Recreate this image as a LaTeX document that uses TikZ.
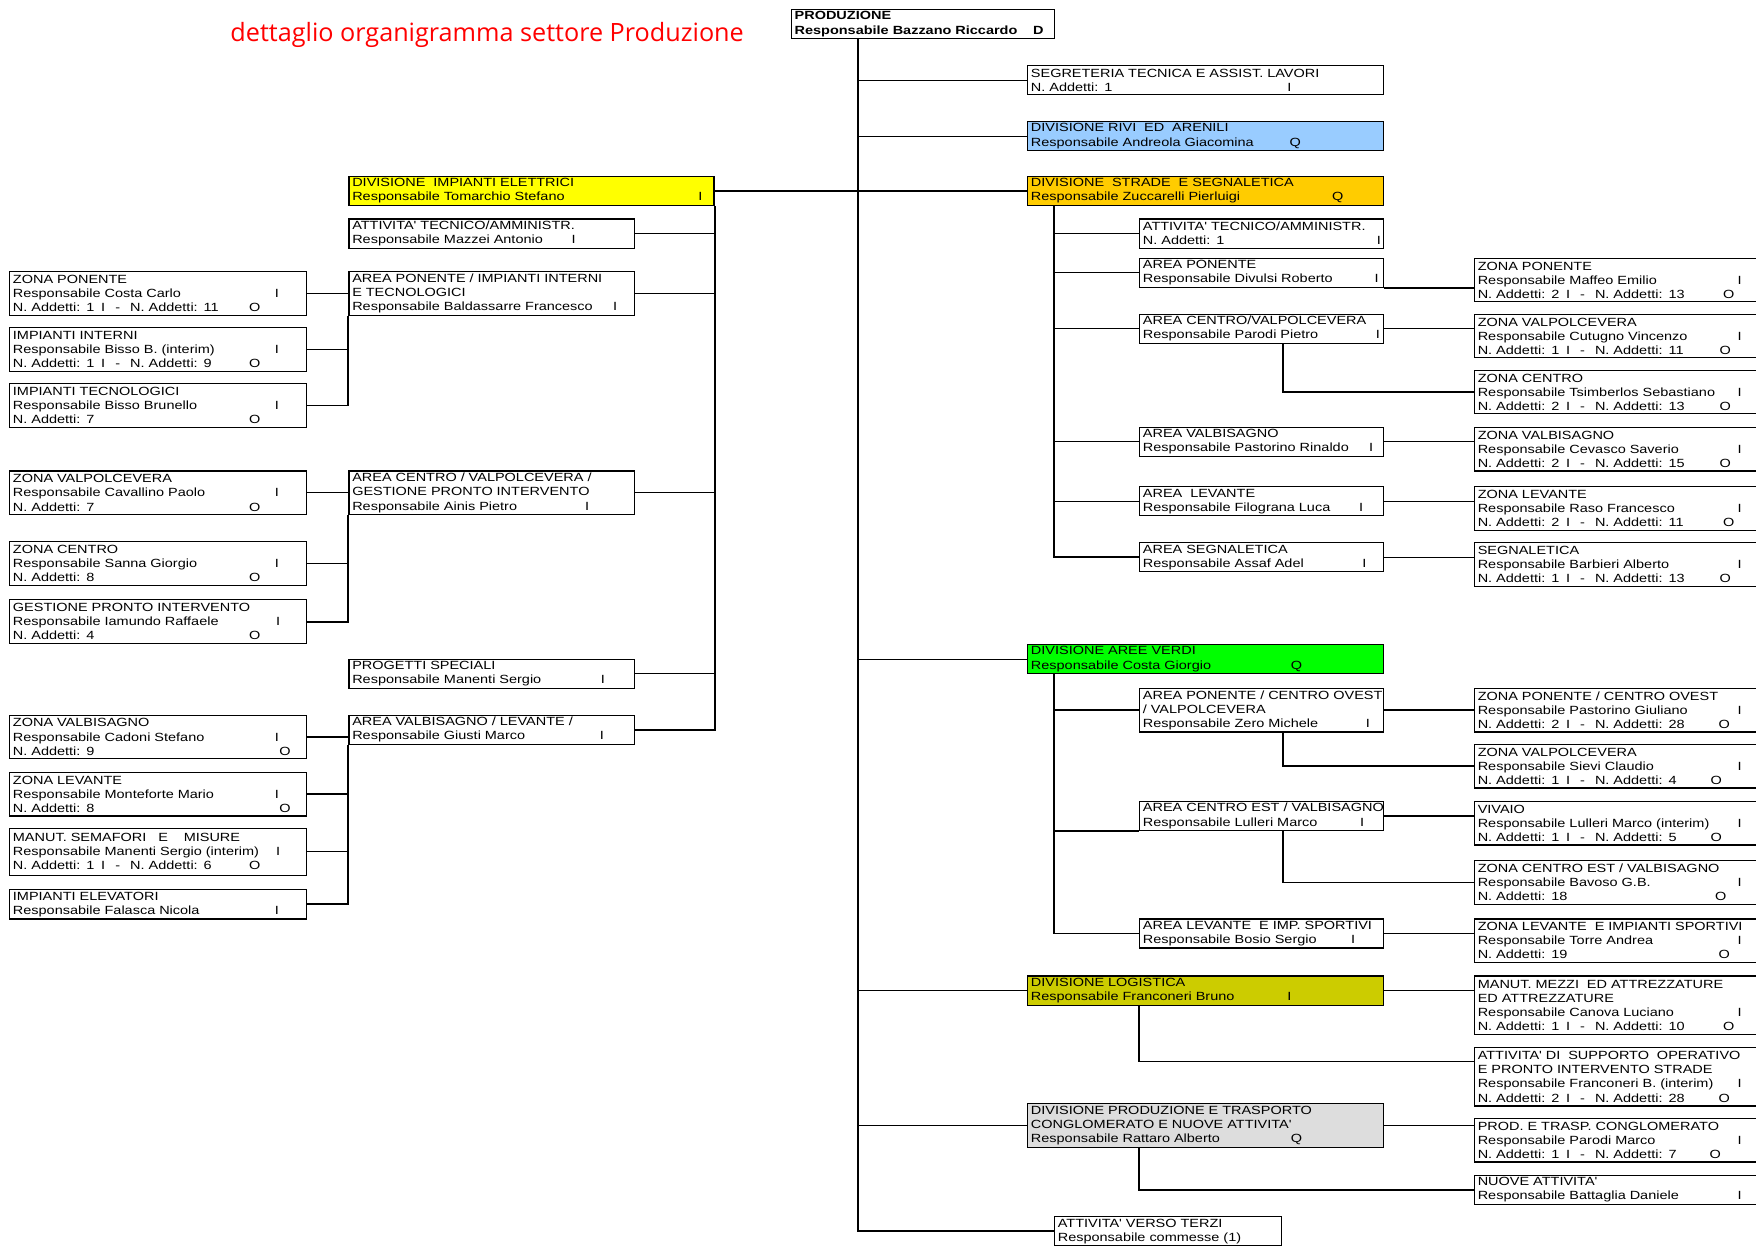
\documentclass[tikz,border=0pt]{standalone}
\usepackage{fontspec}
\newfontfamily\boxfamily[FakeStretch=1.22,Ligatures=TeXOff]{Liberation Sans}
\newfontfamily\titlefamily{Open Sans}
\newcommand{\boxtext}{\boxfamily\fontsize{10.6}{12.6}\selectfont}
% text padded to a fixed width, then the marker letter
\newcommand{\rsp}[3]{\makebox[#1pt][l]{#2}#3}
\newcommand{\nad}[2]{N. Addetti: #1\hspace{6pt}I\hspace{9pt}-\hspace{9pt}N. Addetti: #2}
\definecolor{fillrivi}{HTML}{99CCFF}
\definecolor{fillstrade}{HTML}{FFCC00}
\definecolor{fillimpel}{HTML}{FFFF00}
\definecolor{fillverdi}{HTML}{00FF00}
\definecolor{filllogist}{HTML}{CCCC00}
\definecolor{fillconglo}{HTML}{DDDDDD}
\tikzset{
    unit/.style={draw, line width=1.1pt, anchor=north west, align=left,
        inner xsep=3pt, inner ysep=0pt, font=\boxtext},
    zonebox/.style={unit, text width=259pt},
    areabox/.style={unit, text width=249pt},
    divbox/.style={unit, text width=312pt},
    subbox/.style={unit, text width=212pt},
    farbox/.style={unit, text width=254pt},
    ltwo/.style={minimum height=26pt},
    lthree/.style={minimum height=39pt},
    lfour/.style={minimum height=52pt},
    link/.style={line width=1.1pt},
    bus/.style={line width=1.7pt}
}
\usetikzlibrary{calc}

\begin{document}
\begin{tikzpicture}[x=1pt, y=-1pt]
    \useasboundingbox (0,0) rectangle (1568,1112);
    \node[text=red, font=\titlefamily\fontsize{22.5}{26}\selectfont] (ttl) at (435,31) {dettaglio organigramma settore Produzione};
    \node[unit, ltwo, text width=229pt] (prod) at (706,8) {\textbf{PRODUZIONE}\\\textbf{\rsp{213}{Responsabile Bazzano Riccardo}{D}}};
    % divisions on the trunk
    \node[divbox, ltwo] (segr) at (917,58) {SEGRETERIA TECNICA E ASSIST. LAVORI\\\rsp{229}{N. Addetti: 1}{I}};
    \node[divbox, ltwo, fill=fillrivi] (rivi) at (917,108) {DIVISIONE RIVI\ \ ED\ \ ARENILI\\\rsp{231}{Responsabile Andreola Giacomina}{Q}};
    \node[divbox, ltwo, fill=fillstrade] (strade) at (917,157) {DIVISIONE\ \ STRADE\ \ E SEGNALETICA\\\rsp{269}{Responsabile Zuccarelli Pierluigi}{Q}};
    \node[divbox, ltwo, fill=fillverdi] (verdi) at (917,575) {DIVISIONE AREE VERDI\\\rsp{232}{Responsabile Costa Giorgio}{Q}};
    \node[divbox, ltwo, fill=filllogist] (logist) at (917,871) {DIVISIONE LOGISTICA\\\rsp{229}{Responsabile Franconeri Bruno}{I}};
    \node[divbox, lthree, fill=fillconglo] (conglo) at (917,985) {DIVISIONE PRODUZIONE E TRASPORTO\\CONGLOMERATO E NUOVE ATTIVITA'\\\rsp{232}{Responsabile Rattaro Alberto}{Q}};
    \node[unit, ltwo, text width=197pt] (terzi) at (941,1086) {ATTIVITA' VERSO TERZI\\Responsabile commesse (1)};
    % impianti elettrici
    \node[unit, ltwo, text width=320pt, fill=fillimpel] (impel) at (311,157) {DIVISIONE\ \ IMPIANTI ELETTRICI\\\rsp{309}{Responsabile Tomarchio Stefano}{I}};
    \node[areabox, ltwo] (eattiv) at (311,195) {ATTIVITA' TECNICO/AMMINISTR.\\\rsp{196}{Responsabile Mazzei Antonio}{I}};
    \node[areabox, lthree] (eponente) at (311,242) {AREA PONENTE / IMPIANTI INTERNI\\E TECNOLOGICI\\\rsp{233}{Responsabile Baldassarre Francesco}{I}};
    \node[areabox, lthree] (ecentro) at (311,420) {AREA CENTRO / VALPOLCEVERA /\\GESTIONE PRONTO INTERVENTO\\\rsp{208}{Responsabile Ainis Pietro}{I}};
    \node[areabox, ltwo] (eprog) at (311,588) {PROGETTI SPECIALI\\\rsp{222}{Responsabile Manenti Sergio}{I}};
    \node[areabox, ltwo] (evalb) at (311,638) {AREA VALBISAGNO / LEVANTE /\\\rsp{221}{Responsabile Giusti Marco}{I}};
    \node[zonebox, lthree] (lzponente) at (8,242) {ZONA PONENTE\\\rsp{234}{Responsabile Costa Carlo}{I}\\\rsp{211}{\nad{1}{11}}{O}};
    \node[zonebox, lthree] (lzinterni) at (8,292) {IMPIANTI INTERNI\\\rsp{234}{Responsabile Bisso B. (interim)}{I}\\\rsp{211}{\nad{1}{9}}{O}};
    \node[zonebox, lthree] (lztecno) at (8,342) {IMPIANTI TECNOLOGICI\\\rsp{234}{Responsabile Bisso Brunello}{I}\\\rsp{211}{N. Addetti: 7}{O}};
    \node[zonebox, lthree] (lzvalp) at (8,420) {ZONA VALPOLCEVERA\\\rsp{234}{Responsabile Cavallino Paolo}{I}\\\rsp{211}{N. Addetti: 7}{O}};
    \node[zonebox, lthree] (lzcentro) at (8,483) {ZONA CENTRO\\\rsp{234}{Responsabile Sanna Giorgio}{I}\\\rsp{211}{N. Addetti: 8}{O}};
    \node[zonebox, lthree] (lzgest) at (8,535) {GESTIONE PRONTO INTERVENTO\\\rsp{235}{Responsabile Iamundo Raffaele}{I}\\\rsp{211}{N. Addetti: 4}{O}};
    \node[zonebox, lthree] (lzvalb) at (8,638) {ZONA VALBISAGNO\\\rsp{234}{Responsabile Cadoni Stefano}{I}\\\rsp{238}{N. Addetti: 9}{O}};
    \node[zonebox, lthree] (lzlev) at (8,689) {ZONA LEVANTE\\\rsp{234}{Responsabile Monteforte Mario}{I}\\\rsp{238}{N. Addetti: 8}{O}};
    \node[zonebox, minimum height=42pt] (lzsemaf) at (8,739) {MANUT. SEMAFORI\ \ \ E\ \ \ \ MISURE\\\rsp{235}{Responsabile Manenti Sergio (interim)}{I}\\\rsp{211}{\nad{1}{6}}{O}};
    \node[zonebox, ltwo] (lzelev) at (8,794) {IMPIANTI ELEVATORI\\\rsp{234}{Responsabile Falasca Nicola}{I}};
    % strade e segnaletica
    \node[subbox, ltwo] (sattiv) at (1017,195) {ATTIVITA' TECNICO/AMMINISTR.\\\rsp{209}{N. Addetti: 1}{I}};
    \node[subbox, ltwo] (sponente) at (1017,230) {AREA PONENTE\\\rsp{207}{Responsabile Divulsi Roberto}{I}};
    \node[subbox, ltwo] (scentro) at (1017,280) {AREA CENTRO/VALPOLCEVERA\\\rsp{208}{Responsabile Parodi Pietro}{I}};
    \node[subbox, ltwo] (svalb) at (1017,381) {AREA VALBISAGNO\\\rsp{202}{Responsabile Pastorino Rinaldo}{I}};
    \node[subbox, ltwo] (slev) at (1017,434) {AREA\ \ LEVANTE\\\rsp{193}{Responsabile Filograna Luca}{I}};
    \node[subbox, ltwo] (ssegn) at (1017,484) {AREA SEGNALETICA\\\rsp{196}{Responsabile Assaf Adel}{I}};
    \node[farbox, lthree] (rzponente) at (1316,230) {ZONA PONENTE\\\rsp{232}{Responsabile Maffeo Emilio}{I}\\\rsp{219}{\nad{2}{13}}{O}};
    \node[farbox, lthree] (rzvalp) at (1316,280) {ZONA VALPOLCEVERA\\\rsp{232}{Responsabile Cutugno Vincenzo}{I}\\\rsp{216}{\nad{1}{11}}{O}};
    \node[farbox, lthree] (rzcentro) at (1316,330) {ZONA CENTRO\\\rsp{232}{Responsabile Tsimberlos Sebastiano}{I}\\\rsp{216}{\nad{2}{13}}{O}};
    \node[farbox, lthree] (rzvalb) at (1316,381) {ZONA VALBISAGNO\\\rsp{232}{Responsabile Cevasco Saverio}{I}\\\rsp{216}{\nad{2}{15}}{O}};
    \node[farbox, lthree] (rzlev) at (1316,434) {ZONA LEVANTE\\\rsp{232}{Responsabile Raso Francesco}{I}\\\rsp{219}{\nad{2}{11}}{O}};
    \node[farbox, lthree] (rzsegn) at (1316,484) {SEGNALETICA\\\rsp{232}{Responsabile Barbieri Alberto}{I}\\\rsp{216}{\nad{1}{13}}{O}};
    % aree verdi
    \node[subbox, lthree] (vponente) at (1017,614) {\mbox{AREA PONENTE / CENTRO OVEST}\\ / VALPOLCEVERA\\\rsp{199}{Responsabile Zero Michele}{I}};
    \node[subbox, ltwo] (vcentro) at (1017,715) {\mbox{AREA CENTRO EST / VALBISAGNO}\\\rsp{194}{Responsabile Lulleri Marco}{I}};
    \node[subbox, ltwo] (vlev) at (1017,820) {\mbox{AREA LEVANTE\ \ E IMP. SPORTIVI}\\\rsp{186}{Responsabile Bosio Sergio}{I}};
    \node[farbox, lthree] (rvponente) at (1316,614) {ZONA PONENTE / CENTRO OVEST\\\rsp{232}{Responsabile Pastorino Giuliano}{I}\\\rsp{215}{\nad{2}{28}}{O}};
    \node[farbox, lthree] (rvvalp) at (1316,664) {ZONA VALPOLCEVERA\\\rsp{232}{Responsabile Sievi Claudio}{I}\\\rsp{208}{\nad{1}{4}}{O}};
    \node[farbox, lthree] (rvvivaio) at (1316,715) {VIVAIO\\\rsp{232}{Responsabile Lulleri Marco (interim)}{I}\\\rsp{208}{\nad{1}{5}}{O}};
    \node[farbox, lthree] (rvcentro) at (1316,768) {ZONA CENTRO EST / VALBISAGNO\\\rsp{232}{Responsabile Bavoso G.B.}{I}\\\rsp{212}{N. Addetti: 18}{O}};
    \node[farbox, lthree] (rvlev) at (1316,820) {ZONA LEVANTE\ \ E IMPIANTI SPORTIVI\\\rsp{232}{Responsabile Torre Andrea}{I}\\\rsp{215}{N. Addetti: 19}{O}};
    % logistica e conglomerato
    \node[farbox, lfour] (lmezzi) at (1316,871) {MANUT. MEZZI\ \ ED ATTREZZATURE\\ED ATTREZZATURE\\\rsp{232}{Responsabile Canova Luciano}{I}\\\rsp{219}{\nad{1}{10}}{O}};
    \node[farbox, lfour] (lsupporto) at (1316,935) {ATTIVITA' DI\ \ SUPPORTO\ \ OPERATIVO\\E PRONTO INTERVENTO STRADE\\\rsp{232}{Responsabile Franconeri B. (interim)}{I}\\\rsp{215}{\nad{2}{28}}{O}};
    \node[farbox, lthree] (cprod) at (1316,998) {PROD. E TRASP. CONGLOMERATO\\\rsp{232}{Responsabile Parodi Marco}{I}\\\rsp{207}{\nad{1}{7}}{O}};
    \node[farbox, ltwo] (cnuove) at (1316,1049) {NUOVE ATTIVITA'\\\rsp{232}{Responsabile Battaglia Daniele}{I}};

    % main trunk
    \coordinate (trk) at ($(prod.south west)+(60,0)$);
    \draw[bus] (trk) |- (terzi.west);
    \foreach \n in {segr,rivi,verdi,logist,conglo}
        \draw[link] (\n.west) -- (\n.west -| trk);
    \draw[link] (impel.east) -- (strade.west);
    % left side
    \draw[bus] (impel.south east) |- (evalb.east);
    \foreach \n in {eattiv,eponente,ecentro,eprog}
        \draw[link] (\n.east) -- (\n.east -| impel.east);
    \draw[bus] (eponente.south west) |- (lztecno.east);
    \foreach \n in {lzponente,lzinterni}
        \draw[link] (\n.east) -- (\n.east -| eponente.west);
    \draw[bus] (ecentro.south west) |- (lzgest.east);
    \foreach \n in {lzvalp,lzcentro}
        \draw[link] (\n.east) -- (\n.east -| ecentro.west);
    \draw[bus] (evalb.south west) |- (lzelev.east);
    \foreach \n in {lzvalb,lzlev,lzsemaf}
        \draw[link] (\n.east) -- (\n.east -| evalb.west);
    % strade e segnaletica
    \coordinate (sbus) at ($(strade.south west)+(24,0)$);
    \draw[bus] (sbus) |- (ssegn.west);
    \foreach \n in {sattiv,sponente,scentro,svalb,slev}
        \draw[link] (\n.west) -- (\n.west -| sbus);
    \draw[link] (sponente.south east) -- (sponente.south east -| rzponente.west);
    \foreach \a/\b in {scentro/rzvalp,svalb/rzvalb,slev/rzlev,ssegn/rzsegn}
        \draw[link] (\a.east) -- (\a.east -| \b.west);
    \draw[link] ($(scentro.south)+(19,0)$) |- (rzcentro.west);
    % aree verdi
    \coordinate (vbus) at ($(verdi.south west)+(24,0)$);
    \draw[bus] (vbus) |- (vlev.west);
    \draw[link] (vponente.west) -- (vponente.west -| vbus);
    \draw[link] (vcentro.south west) -- (vcentro.south west -| vbus);
    \foreach \a/\b in {vponente/rvponente,vcentro/rvvivaio,vlev/rvlev}
        \draw[link] (\a.east) -- (\a.east -| \b.west);
    \draw[link] ($(vponente.south)+(19,0)$) |- (rvvalp.west);
    \draw[link] ($(vcentro.south)+(19,0)$) |- (rvcentro.west);
    % logistica, conglomerato
    \draw[link] (logist.east) -- (logist.east -| lmezzi.west);
    \draw[link] ($(logist.south west)+(100,0)$) |- ([yshift=14pt]lsupporto.west);
    \draw[link] (conglo.east) -- (conglo.east -| cprod.west);
    \draw[link] ($(conglo.south west)+(100,0)$) |- (cnuove.west);
\end{tikzpicture}
\end{document}
